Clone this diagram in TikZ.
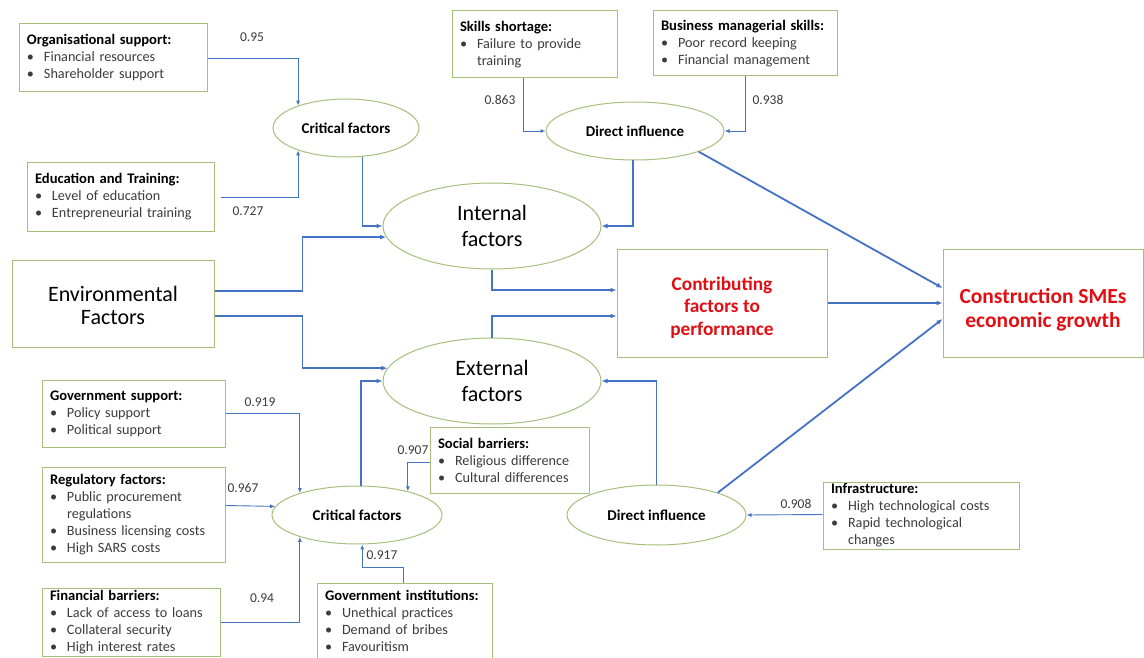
\documentclass[tikz,border=0pt]{standalone}
\usepackage{fontspec}
\setmainfont{Carlito}
\usetikzlibrary{arrows.meta, shapes, positioning}

\definecolor{boxgreen}{RGB}{165,192,125}
\definecolor{linkblue}{RGB}{68,114,196}
\definecolor{redtext}{RGB}{225,15,20}
\definecolor{itemgray}{RGB}{60,60,60}

\newcommand{\bul}[1]{\mbox{\makebox[17pt][l]{\textbullet}#1}}
\newcommand{\cont}[1]{\mbox{\hspace*{17pt}#1}}
\newcommand{\boxhead}[1]{{\color{black}\fontsize{14.6}{17}\selectfont\bfseries #1}}

\begin{document}
\begin{tikzpicture}[x=1pt, y=-1pt,
	factorbox/.style={draw=boxgreen, line width=1pt, fill=white, align=left, inner xsep=8pt, inner ysep=0pt, text=itemgray, font=\fontsize{14.2}{17}\selectfont},
	bigbox/.style={draw=boxgreen, line width=1pt, fill=white, align=center, inner sep=0pt},
	latent/.style={draw=boxgreen, line width=1pt, ellipse, fill=white, inner sep=0pt, align=center},
	mainlink/.style={draw=linkblue, line width=1.8pt, -{Latex[length=6pt,width=5pt]}},
	loadlink/.style={draw=linkblue, line width=0.9pt, -{Latex[length=5pt,width=4pt]}},
	loading/.style={text=itemgray, font=\fontsize{13.5}{15}\selectfont}]
	\fill[white] (0,0) rectangle (1144,658);
	\useasboundingbox (0,0) rectangle (1144,658);

	     % nodes %
		 \node[factorbox, text width=172pt, minimum height=68pt] (orgsup) at (113,58) {\boxhead{Organisational support:}\\ \bul{Financial resources}\\ \bul{Shareholder support}};
		 \node[factorbox, text width=171pt, minimum height=68pt] (edutrain) at (120.5,197) {\boxhead{Education and Training:}\\ \bul{Level of education}\\ \bul{Entrepreneurial training}};
		 \node[factorbox, text width=149pt, minimum height=67pt] (skills) at (534.5,44.5) {\boxhead{Skills shortage:}\\ \bul{Failure to provide}\\ \cont{training}};
		 \node[factorbox, text width=168pt, minimum height=65pt] (busman) at (745,43.5) {\boxhead{Business managerial skills:}\\ \bul{Poor record keeping}\\ \bul{Financial management}};
		 \node[factorbox, text width=167pt, minimum height=67pt] (govsup) at (133.5,413.5) {\boxhead{Government support:}\\ \bul{Policy support}\\ \bul{Political support}};
		 \node[factorbox, text width=167pt, minimum height=95pt] (regfac) at (133.5,514.5) {\boxhead{Regulatory factors:}\\ \bul{Public procurement}\\ \cont{regulations}\\ \bul{Business licensing costs}\\ \bul{High SARS costs}};
		 \node[factorbox, text width=162pt, minimum height=68pt] (finbar) at (131,622) {\boxhead{Financial barriers:}\\ \bul{Lack of access to loans}\\ \bul{Collateral security}\\ \bul{High interest rates}};
		 \node[factorbox, text width=143pt, minimum height=66pt] (social) at (509.5,460) {\boxhead{Social barriers:}\\ \bul{Religious difference}\\ \bul{Cultural differences}};
		 \node[factorbox, text width=159pt, minimum height=75pt] (govinst) at (404.5,620.5) {\boxhead{Government institutions:}\\ \bul{Unethical practices}\\ \bul{Demand of bribes}\\ \bul{Favouritism}};
		 \node[factorbox, text width=180pt, minimum height=67pt] (infra) at (921,515.5) {\boxhead{Infrastructure:}\\ \bul{High technological costs}\\ \bul{Rapid technological}\\ \cont{changes}};

		 \node[bigbox, minimum width=202pt, minimum height=87pt, font=\fontsize{22}{23}\selectfont] (envfac) at (113,303.5) {\rule{0pt}{20pt}Environmental\\Factors};
		 \node[bigbox, minimum width=210pt, minimum height=108pt, text=redtext, font=\fontsize{19.3}{22.5}\selectfont\bfseries] (contrib) at (722,303) {\rule{0pt}{22.5pt}Contributing\\factors to\\performance};
		 \node[bigbox, minimum width=200pt, minimum height=108pt, text=redtext, font=\fontsize{21.5}{24}\selectfont\bfseries] (growth) at (1043,303) {\rule{0pt}{28pt}Construction SMEs\\economic growth};

		 \node[latent, minimum width=146pt, minimum height=58pt, font=\fontsize{15}{17}\selectfont\bfseries] (crit1) at (346,128) {Critical factors};
		 \node[latent, minimum width=178pt, minimum height=58pt, font=\fontsize{15}{17}\selectfont\bfseries] (dirinf1) at (635,131) {Direct influence};
		 \node[latent, minimum width=218pt, minimum height=86pt, font=\fontsize{22}{26}\selectfont] (internal) at (492,226) {Internal\\factors};
		 \node[latent, below of=internal, node distance=155pt, minimum width=218pt, minimum height=86pt, font=\fontsize{22}{26}\selectfont] (external) {External\\factors};
		 \node[latent, minimum width=170pt, minimum height=58pt, font=\fontsize{15}{17}\selectfont\bfseries] (crit2) at (357,515) {Critical factors};
		 \node[latent, right of=crit2, node distance=299.5pt, minimum width=179pt, minimum height=60pt, font=\fontsize{15}{17}\selectfont\bfseries] (dirinf2) {Direct influence};

		 % loadings %
		 \node[loading] (w1) at (252,37) {0.95};
		 \node[loading] (w2) at (248,211) {0.727};
		 \node[loading] (w3) at (500,100) {0.863};
		 \node[loading] (w4) at (768,100) {0.938};
		 \node[loading] (w5) at (260,402) {0.919};
		 \node[loading] (w6) at (243,488) {0.967};
		 \node[loading] (w7) at (262,598) {0.94};
		 \node[loading] (w8) at (413,450) {0.907};
		 \node[loading] (w9) at (382,555) {0.917};
		 \node[loading] (w10) at (796,504) {0.908};

		 % edges %
		 \draw[loadlink] (orgsup.east) -| (crit1.155);
		 \draw[loadlink] ([xshift=6pt]edutrain.east) -| (crit1.205);
		 \draw[loadlink] ([xshift=-11.5pt]skills.south) |- (dirinf1.west);
		 \draw[loadlink] (busman.south) |- (dirinf1.east);
		 \draw[mainlink] (crit1.300) |- (internal.west);
		 \draw[mainlink] ([xshift=-2pt]dirinf1.south) |- (internal.east);
		 \draw[mainlink] ([yshift=12.5pt]envfac.east) -- ++(88,0) |- (internal.186);
		 \draw[mainlink] ([yshift=-12.5pt]envfac.east) -- ++(88,0) |- (external.173);
		 \draw[mainlink] (internal.south) |- ([yshift=13pt]contrib.west);
		 \draw[mainlink] (external.north) |- ([yshift=-13pt]contrib.west);
		 \draw[mainlink] (contrib.east) -- (growth.west);
		 \draw[mainlink] (dirinf1.342) -- ([yshift=15pt]growth.west);
		 \draw[mainlink] (dirinf2.20) -- ([yshift=-16pt]growth.west);
		 \draw[mainlink] ([xshift=4pt]crit2.north) |- (external.west);
		 \draw[mainlink] (dirinf2.north) |- (external.east);
		 \draw[loadlink] (govsup.east) -| (crit2.159);
		 \draw[loadlink] ([yshift=9pt]regfac.east) -- (crit2.174);
		 \draw[loadlink] (finbar.east) -| (crit2.201);
		 \draw[loadlink] ([yshift=-2pt]social.west) -| (crit2.25);
		 \draw[loadlink] ([xshift=-1.5pt]govinst.north) -- ++(0,-15) -| (crit2.280);
		 \draw[loadlink] ([yshift=1pt]infra.west) -- (dirinf2.east);
\end{tikzpicture}
\end{document}
